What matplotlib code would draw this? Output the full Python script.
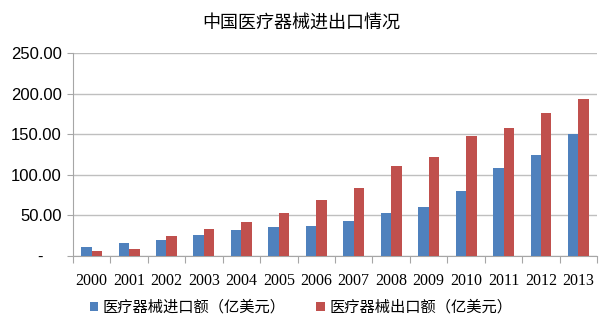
import numpy as np
import matplotlib.pyplot as plt
import matplotlib.transforms as mtransforms

years = ["2000", "2001", "2002", "2003", "2004", "2005", "2006",
         "2007", "2008", "2009", "2010", "2011", "2012", "2013"]
imports = [11.5, 16.4, 19.3, 25.5, 32.0, 36.2, 37.0,
           42.7, 52.6, 60.8, 80.1, 108.9, 124.5, 150.8]
exports = [6.6, 9.0, 24.7, 32.9, 41.9, 53.0, 69.0,
           84.3, 110.6, 122.0, 148.0, 157.8, 176.7, 193.6]
yticks = [0, 50, 100, 150, 200, 250]
ytick_labels = ["-", "50.00", "100.00", "150.00", "200.00", "250.00"]

cjk = ["Noto Sans CJK SC", "DejaVu Sans"]
blue = "#4F81BD"
red = "#C0504D"
grey = "#A6A6A6"

fig = plt.figure(figsize=(6.02, 3.22), dpi=100)
ax = fig.add_axes([0.121, 0.205, 0.871, 0.63])

x = np.arange(len(years))
w = 0.28
ax.bar(x - w / 2, imports, w, color=blue, label="医疗器械进口额（亿美元）", zorder=3)
ax.bar(x + w / 2, exports, w, color=red, label="医疗器械出口额（亿美元）", zorder=3)

ax.set_xlim(-0.5, len(years) - 0.5)
ax.set_ylim(0, 250)

# y axis
ax.set_yticks(yticks)
ax.set_yticklabels(ytick_labels, fontfamily="Liberation Sans", fontsize=12)
ax.yaxis.grid(True, color="#BFBFBF", linewidth=1, zorder=0)
ax.tick_params(axis="y", length=4, color=grey, pad=4)
# the dash for zero sits further left, like the accounting format
lab0 = ax.get_yticklabels()[0]
lab0.set_transform(lab0.get_transform() +
                   mtransforms.ScaledTranslation(-0.19, 0, fig.dpi_scale_trans))

# x axis: ticks between categories, labels centered
ax.set_xticks(np.arange(-0.5, len(years), 1))
ax.set_xticklabels([])
ax.set_xticks(x, minor=True)
ax.set_xticklabels(years, minor=True, fontfamily="Liberation Serif", fontsize=11.5)
ax.tick_params(axis="x", which="major", length=5, color=grey)
ax.tick_params(axis="x", which="minor", length=0, pad=12)

for s in ["top", "right"]:
    ax.spines[s].set_visible(False)
ax.spines["left"].set_color(grey)
ax.spines["bottom"].set_color(grey)

fig.text(0.5, 0.93, "中国医疗器械进出口情况", ha="center", va="center",
         fontfamily=cjk, fontsize=13)

leg = fig.legend(loc="center", bbox_to_anchor=(0.5, 0.045), ncol=2, frameon=False,
                 prop={"family": cjk, "size": 11}, handlelength=0.55, handleheight=0.55,
                 handletextpad=0.3, columnspacing=2.0)

fig.savefig("out.png", dpi=100)
